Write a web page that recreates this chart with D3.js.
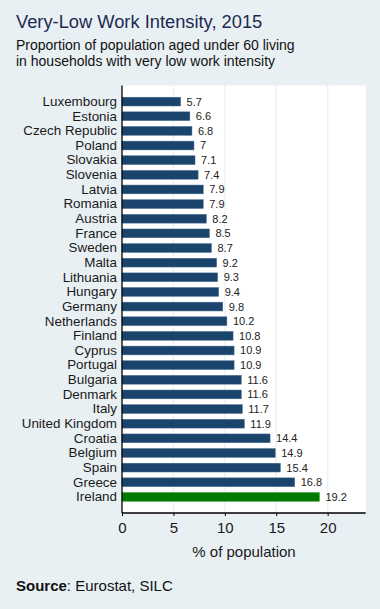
<!DOCTYPE html>
<html><head><meta charset="utf-8">
<script src="https://cdn.jsdelivr.net/npm/d3@7"></script>
<style>
html,body{margin:0;padding:0;background:#e9f0f3;}
svg{display:block;font-family:"Liberation Sans",Arial,sans-serif;}
</style></head>
<body>
<svg id="chart" width="380" height="609"></svg>
<script>
const countries = ["Luxembourg","Estonia","Czech Republic","Poland","Slovakia","Slovenia","Latvia","Romania","Austria","France","Sweden","Malta","Lithuania","Hungary","Germany","Netherlands","Finland","Cyprus","Portugal","Bulgaria","Denmark","Italy","United Kingdom","Croatia","Belgium","Spain","Greece","Ireland"];
const values = [5.7,6.6,6.8,7,7.1,7.4,7.9,7.9,8.2,8.5,8.7,9.2,9.3,9.4,9.8,10.2,10.8,10.9,10.9,11.6,11.6,11.7,11.9,14.4,14.9,15.4,16.8,19.2];
const highlight = "Ireland";
const xTicks = [0,5,10,15,20];

const svg = d3.select("#chart");
const L = 122, R = 365.7, T = 85.5, B = 513;
const x = d3.scaleLinear().domain([0,23.7]).range([L,R]);
const y = d3.scaleBand().domain(countries).range([T,B]).paddingInner(0.4).paddingOuter(0.8);

svg.append("rect").attr("width",380).attr("height",609).attr("fill","#e9f0f3");
svg.append("rect").attr("x",L).attr("y",T).attr("width",R-L).attr("height",B-T).attr("fill","#ffffff");

// gridlines
svg.append("g").selectAll("line").data(xTicks.filter(d=>d>0)).join("line")
  .attr("x1",d=>x(d)).attr("x2",d=>x(d)).attr("y1",T).attr("y2",B)
  .attr("stroke","#eaf0f2").attr("stroke-width",1.2);

// bars
svg.append("g").selectAll("rect").data(countries).join("rect")
  .attr("x",x(0)).attr("y",d=>y(d)).attr("height",y.bandwidth())
  .attr("width",(d,i)=>x(values[i])-x(0))
  .attr("fill",d=>d===highlight?"#007a00":"#1a446c")
  .attr("stroke",d=>d===highlight?"#3a9a3a":"#4a6d90").attr("stroke-width",0.5);

// value labels
svg.append("g").selectAll("text").data(countries).join("text")
  .attr("x",(d,i)=>x(values[i])+6).attr("y",d=>y(d)+y.bandwidth()/2)
  .attr("dy","0.36em").attr("font-size",11).attr("fill","#222")
  .text((d,i)=>values[i]);

// y axis
const yAxis = svg.append("g").attr("transform",`translate(${L},0)`)
  .call(d3.axisLeft(y).tickSize(0).tickPadding(5));
yAxis.select(".domain").remove();
yAxis.selectAll("text").attr("font-size",13.4).attr("fill","#1a1a1a").attr("font-family","Liberation Sans, Arial, sans-serif");
svg.append("line").attr("x1",L).attr("x2",L).attr("y1",T).attr("y2",B).attr("stroke","#000").attr("stroke-width",1.3);

// x axis
const xAxis = svg.append("g").attr("transform",`translate(0,${B})`)
  .call(d3.axisBottom(x).tickValues(xTicks).tickSize(3).tickPadding(6).tickSizeOuter(0));
xAxis.select(".domain").attr("d",`M${L},0H${R}`).attr("stroke","#000").attr("stroke-width",1.3);
xAxis.selectAll("text").attr("font-size",15).attr("fill","#1a1a1a").attr("font-family","Liberation Sans, Arial, sans-serif");

svg.append("text").attr("x",244).attr("y",557).attr("text-anchor","middle")
  .attr("font-size",15).attr("fill","#1a1a1a").text("% of population");

// titles
svg.append("text").attr("x",16).attr("y",28).attr("font-size",18.3).attr("fill","#1c2a52").text("Very-Low Work Intensity, 2015");
svg.append("text").attr("x",16).attr("y",50).attr("font-size",14).attr("fill","#111").text("Proportion of population aged under 60 living");
svg.append("text").attr("x",16).attr("y",66).attr("font-size",14).attr("fill","#111").text("in households with very low work intensity");

const src = svg.append("text").attr("x",16).attr("y",591).attr("font-size",15).attr("fill","#111");
src.append("tspan").attr("font-weight","bold").text("Source");
src.append("tspan").text(": Eurostat, SILC");
</script>
</body></html>
